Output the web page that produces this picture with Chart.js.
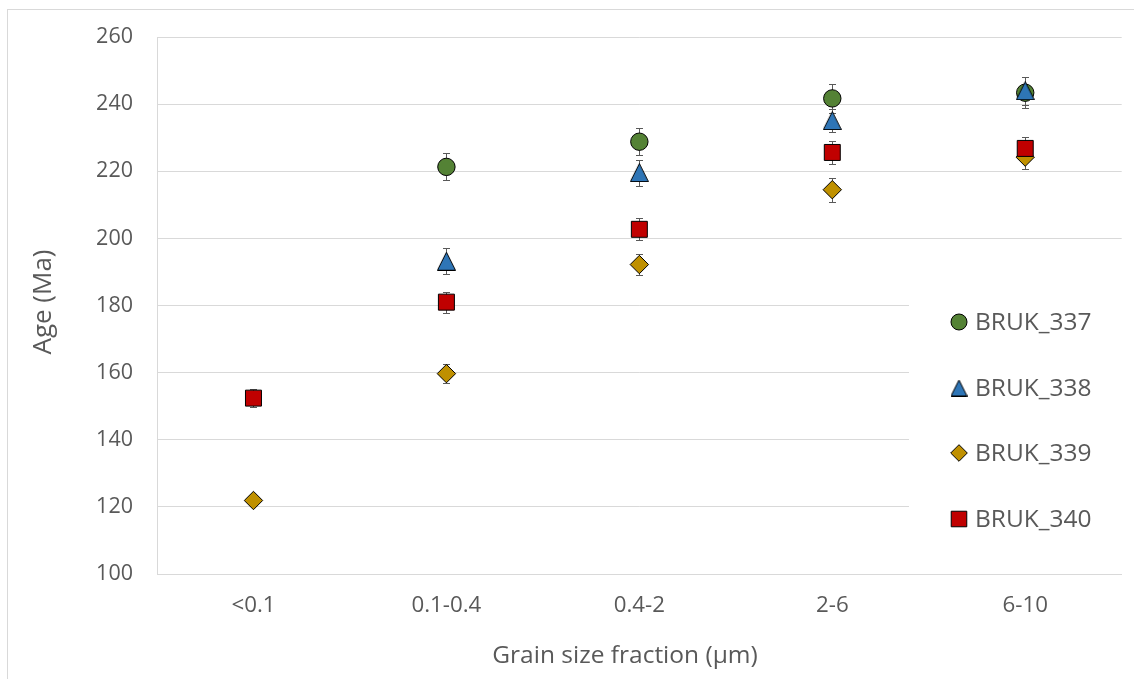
<!DOCTYPE html>
<html>
<head>
<meta charset="utf-8">
<script src="https://cdn.jsdelivr.net/npm/chart.js@4.4.1/dist/chart.umd.min.js"></script>
<style>
  html, body { margin: 0; padding: 0; background: #ffffff; }
  #wrap { width: 1134px; height: 679px; position: relative; }
</style>
</head>
<body>
<div id="wrap"><canvas id="chart"></canvas></div>
<script>
// Grain size fractions (x categories)
const fractions = ['<0.1', '0.1-0.4', '0.4-2', '2-6', '6-10'];

// K-Ar ages (Ma) per sample
const bruk337 = [null, 221.3, 228.8, 241.7, 243.4];
const bruk338 = [null, 193.2, 219.6, 235.1, 244.0];
const bruk339 = [121.9, 159.7, 192.2, 214.5, 224.2];
const bruk340 = [152.4, 181.0, 202.7, 225.6, 226.8];

// Analytical uncertainty (± Ma)
const err337 = [null, 4.0, 4.1, 4.3, 4.7];
const err338 = [null, 3.8, 3.9, 3.4, 4.2];
const err339 = [1.2, 2.8, 3.1, 3.6, 3.6];
const err340 = [2.6, 3.1, 3.3, 3.5, 3.5];

// Axis range and titles
const yMin = 100, yMax = 260, yStep = 20;
const xTitle = 'Grain size fraction (µm)';
const yTitle = 'Age (Ma)';

const FONT = '"Open Sans", "Noto Sans", sans-serif';
const TEXT = '#595959';
const GRID = '#d9d9d9';

// Isosceles triangle marker that fills a square box
function triangleMarker(size, color) {
  const c = document.createElement('canvas');
  c.width = size; c.height = size;
  const g = c.getContext('2d');
  g.beginPath();
  g.moveTo(size / 2, 0.5);
  g.lineTo(size - 0.5, size - 0.5);
  g.lineTo(0.5, size - 0.5);
  g.closePath();
  g.fillStyle = color;
  g.fill();
  g.strokeStyle = '#000000';
  g.lineWidth = 1;
  g.stroke();
  return c;
}

const series = [
  { label: 'BRUK_337', data: bruk337, errors: err337, color: '#548235', style: 'circle',   radius: 8.7,  legendRadius: 8,   order: 3 },
  { label: 'BRUK_338', data: bruk338, errors: err338, color: '#2e75b6', style: triangleMarker(19, '#2e75b6'), legendStyle: triangleMarker(17, '#2e75b6'), radius: 10, legendRadius: 9, order: 2 },
  { label: 'BRUK_339', data: bruk339, errors: err339, color: '#bf9000', style: 'rectRot',  radius: 9.2,  legendRadius: 8.3, order: 1 },
  { label: 'BRUK_340', data: bruk340, errors: err340, color: '#c00000', style: 'rect',     radius: 11.3, legendRadius: 11,  order: 0 }
];

// Vertical error bars with caps, drawn underneath the markers
const errorBars = {
  id: 'errorBars',
  beforeDatasetsDraw(chart) {
    const { ctx } = chart;
    const y = chart.scales.y;
    ctx.save();
    ctx.strokeStyle = '#595959';
    ctx.lineWidth = 1;
    chart.data.datasets.forEach((ds, i) => {
      const meta = chart.getDatasetMeta(i);
      ds.errors.forEach((e, j) => {
        const v = ds.data[j];
        if (e == null || v == null) return;
        const px = Math.round(meta.data[j].x) + 0.5;
        const yt = Math.round(y.getPixelForValue(v + e)) + 0.5;
        const yb = Math.round(y.getPixelForValue(v - e)) + 0.5;
        const cap = 3.5;
        ctx.beginPath();
        ctx.moveTo(px, yt); ctx.lineTo(px, yb);
        ctx.moveTo(px - cap, yt); ctx.lineTo(px + cap, yt);
        ctx.moveTo(px - cap, yb); ctx.lineTo(px + cap, yb);
        ctx.stroke();
      });
    });
    ctx.restore();
  }
};

// Legend box inside the plot, on the right, over the gridlines
const sideLegend = {
  id: 'sideLegend',
  afterDraw(chart) {
    const { ctx } = chart;
    ctx.save();
    ctx.fillStyle = '#ffffff';
    ctx.fillRect(909, 272, 216, 286);
    const rows = [322, 388, 453, 519];
    ctx.font = '24.5px ' + FONT;
    ctx.textBaseline = 'middle';
    ctx.textAlign = 'left';
    chart.data.datasets.forEach((ds, i) => {
      const yy = rows[i];
      ctx.fillStyle = ds.backgroundColor;
      ctx.strokeStyle = '#000000';
      ctx.lineWidth = 1;
      Chart.helpers.drawPoint(ctx, { pointStyle: ds.legendStyle || ds.pointStyle, radius: ds.legendRadius, rotation: 0, borderWidth: 1 }, 959, yy);
      ctx.fillStyle = TEXT;
      ctx.fillText(ds.label, 975, yy + 1);
    });
    ctx.restore();
  }
};

// Axis titles
const axisTitles = {
  id: 'axisTitles',
  afterDraw(chart) {
    const { ctx } = chart;
    ctx.save();
    ctx.fillStyle = TEXT;
    ctx.textAlign = 'center';
    ctx.textBaseline = 'middle';
    ctx.font = '24.5px ' + FONT;
    ctx.fillText(xTitle, 625, 656);
    ctx.translate(44, 302);
    ctx.rotate(-Math.PI / 2);
    ctx.font = '26px ' + FONT;
    ctx.fillText(yTitle, 0, 0);
    ctx.restore();
  }
};

// Thin outer frame of the chart
const frame = {
  id: 'frame',
  beforeDraw(chart) {
    const { ctx } = chart;
    ctx.save();
    ctx.strokeStyle = GRID;
    ctx.lineWidth = 1;
    ctx.strokeRect(7.5, 9.5, 1200, 700);
    ctx.restore();
  }
};

new Chart(document.getElementById('chart'), {
  type: 'line',
  data: {
    labels: fractions,
    datasets: series.map(s => ({
      label: s.label,
      data: s.data,
      errors: s.errors,
      legendRadius: s.legendRadius,
      legendStyle: s.legendStyle,
      showLine: false,
      pointStyle: s.style,
      pointRadius: s.radius,
      pointHoverRadius: s.radius,
      pointBackgroundColor: s.color,
      backgroundColor: s.color,
      pointBorderColor: '#000000',
      pointBorderWidth: 1,
      order: s.order
    }))
  },
  options: {
    responsive: true,
    maintainAspectRatio: false,
    animation: false,
    layout: { padding: { left: 0, right: 12, top: 37, bottom: 0 } },
    plugins: {
      legend: { display: false },
      tooltip: { enabled: false }
    },
    scales: {
      x: {
        type: 'category',
        offset: true,
        grid: { display: false, drawTicks: false },
        border: { display: true, color: GRID, width: 1 },
        ticks: { color: TEXT, font: { family: FONT, size: 22.3 }, padding: 18 },
        title: { display: false },
        afterFit(s) { s.height = 105; }
      },
      y: {
        min: yMin,
        max: yMax,
        ticks: { stepSize: yStep, color: TEXT, font: { family: FONT, size: 21.5 }, padding: 24 },
        grid: { color: GRID, lineWidth: 1, drawTicks: false },
        border: { display: true, color: GRID, width: 1 },
        title: { display: false },
        afterFit(s) { s.width = 157; }
      }
    }
  },
  plugins: [frame, errorBars, sideLegend, axisTitles]
});
</script>
</body>
</html>
